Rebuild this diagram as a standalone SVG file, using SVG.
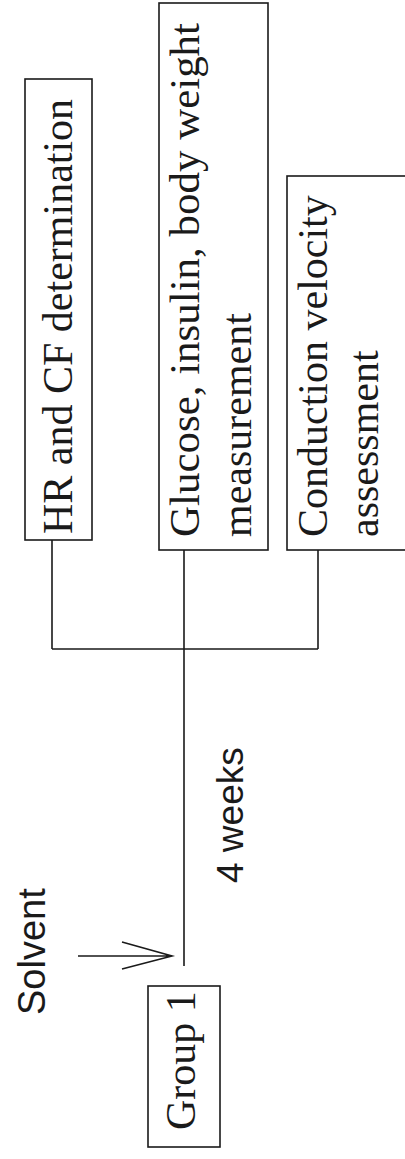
<svg xmlns="http://www.w3.org/2000/svg" width="405" height="1159" viewBox="0 0 405 1159">
  <style>
    .box { fill: none; stroke: #1a1a1a; stroke-width: 1.6; }
    .wire { fill: none; stroke: #1a1a1a; stroke-width: 1.6; }
    .lbl { font-family: "Liberation Serif", "Times New Roman", serif; font-size: 42px; fill: #1a1a1a; }
    .sans { font-family: "Liberation Sans", Arial, sans-serif; font-size: 38px; fill: #1a1a1a; }
  </style>
  <rect x="0" y="0" width="405" height="1159" fill="#ffffff"/>

  <!-- connectors: timeline, branch bar and solvent arrow -->
  <g id="connectors">
    <path class="wire" d="M52,540 V649 M184,550 V966 M318,550 V649 M52,649 H318"/>
    <path class="wire" d="M78,956 H172 M122,942 L172,956 L122,969"/>
  </g>

  <g id="group1">
    <rect class="box" x="148" y="986" width="72" height="161"/>
    <text class="lbl" transform="translate(195,1130) rotate(-90)">Group 1</text>
  </g>

  <g id="solvent">
    <text class="sans" transform="translate(45,1015) rotate(-90)">Solvent</text>
  </g>

  <g id="duration">
    <text class="sans" style="font-size:37px" transform="translate(243,883) rotate(-90)">4 weeks</text>
  </g>

  <g id="hr-cf">
    <rect class="box" x="25" y="79" width="67" height="461"/>
    <text class="lbl" transform="translate(72,534) rotate(-90)">HR and CF determination</text>
  </g>

  <g id="glucose">
    <rect class="box" x="159" y="3" width="109" height="547"/>
    <text class="lbl" transform="translate(199,537) rotate(-90)" textLength="514" lengthAdjust="spacingAndGlyphs">Glucose, insulin, body weight</text>
    <text class="lbl" transform="translate(251,537) rotate(-90)">measurement</text>
  </g>

  <g id="conduction">
    <rect class="box" x="287" y="176" width="130" height="374"/>
    <text class="lbl" transform="translate(327,537) rotate(-90)">Conduction velocity</text>
    <text class="lbl" transform="translate(378,537) rotate(-90)">assessment</text>
  </g>
</svg>
